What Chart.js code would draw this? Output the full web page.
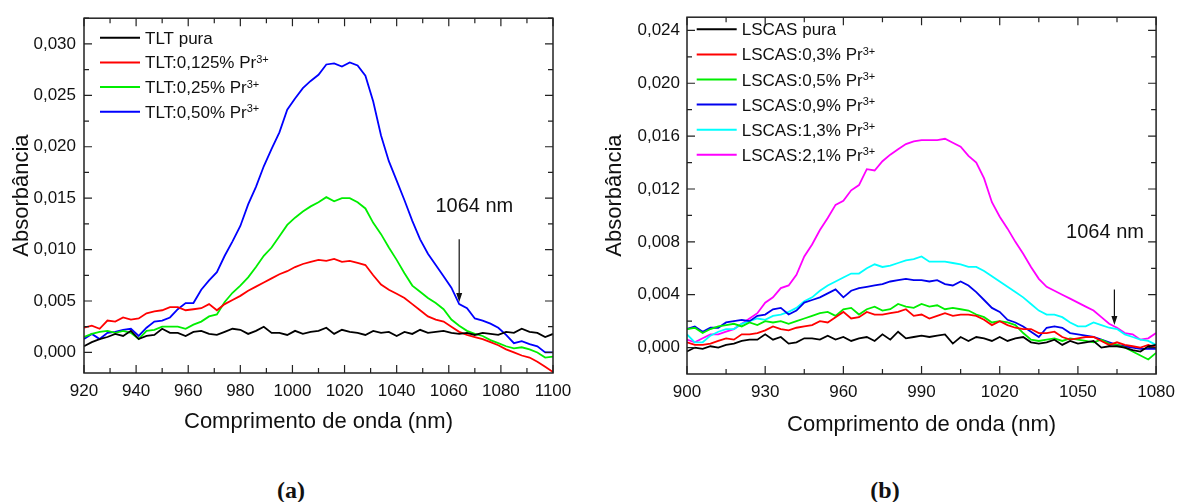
<!DOCTYPE html>
<html>
<head>
<meta charset="utf-8">
<script src="https://cdn.jsdelivr.net/npm/chart.js@4.4.0/dist/chart.umd.min.js"></script>
<style>
  body { margin: 0; background: #fff; width: 1183px; height: 502px; position: relative; overflow: hidden; }
  .box { position: absolute; top: 0; }
  .cap { position: absolute; font: bold 24px "Liberation Serif", "Times New Roman", serif; color: #111; transform: translate(-50%, -50%); }
</style>
</head>
<body>
<div class="box" style="left:0"><canvas id="chartA" width="580" height="450" style="width:580px;height:450px"></canvas></div>
<div class="box" style="left:600px"><canvas id="chartB" width="583" height="450" style="width:583px;height:450px"></canvas></div>
<div class="cap" style="left:291px; top:490px">(a)</div>
<div class="cap" style="left:885px; top:490px">(b)</div>

<script>
// ---------- (a) TLT ----------
let wl_a = [920,923,926,929,932,935,938,941,944,947,950,953,956,959,962,965,968,971,974,977,
  980,983,986,989,992,995,998,1001,1004,1007,1010,1013,1016,1019,1022,1025,1028,1031,1034,1037,
  1040,1043,1046,1049,1052,1055,1058,1061,1064,1067,1070,1073,1076,1079,1082,1085,1088,1091,1094,1097,1100];

let tlt_pura = [0.0006,0.0010,0.0013,0.0015,0.0018,0.0016,0.0021,0.0013,0.0016,0.0017,
  0.0023,0.0019,0.0019,0.0016,0.0020,0.0021,0.0018,0.0017,0.0020,0.0023,
  0.0022,0.0018,0.0021,0.0025,0.0019,0.0019,0.0017,0.0021,0.0018,0.0020,
  0.0021,0.0024,0.0018,0.0022,0.0020,0.0019,0.0017,0.0021,0.0019,0.0020,
  0.0016,0.0020,0.0018,0.0022,0.0019,0.0020,0.0021,0.0019,0.0018,0.0019,
  0.0017,0.0019,0.0018,0.0017,0.0020,0.0019,0.0023,0.0020,0.0019,0.0015,0.0018];

let tlt_0125 = [0.0024,0.0026,0.0023,0.0031,0.0030,0.0034,0.0032,0.0033,0.0038,0.0040,
  0.0041,0.0044,0.0044,0.0041,0.0042,0.0043,0.0047,0.0041,0.0047,0.0051,
  0.0055,0.0060,0.0064,0.0068,0.0072,0.0076,0.0079,0.0083,0.0086,0.0088,
  0.0090,0.0089,0.0091,0.0088,0.0089,0.0087,0.0085,0.0075,0.0066,0.0061,
  0.0057,0.0053,0.0047,0.0041,0.0035,0.0032,0.0030,0.0025,0.0020,0.0017,
  0.0015,0.0013,0.0010,0.0007,0.0003,0.0000,-0.0003,-0.0005,-0.0009,-0.0014,-0.0019];

let tlt_025 = [0.0015,0.0018,0.0020,0.0021,0.0019,0.0021,0.0019,0.0013,0.0021,0.0022,
  0.0025,0.0025,0.0025,0.0023,0.0027,0.0030,0.0035,0.0037,0.0049,0.0058,
  0.0065,0.0073,0.0083,0.0094,0.0102,0.0113,0.0124,0.0131,0.0137,0.0142,
  0.0146,0.0151,0.0147,0.0150,0.0150,0.0146,0.0140,0.0126,0.0115,0.0102,
  0.0090,0.0077,0.0065,0.0059,0.0053,0.0048,0.0042,0.0032,0.0026,0.0021,
  0.0018,0.0016,0.0012,0.0009,0.0006,0.0004,0.0005,0.0003,0.0000,-0.0005,-0.0004];

let tlt_050 = [0.0013,0.0018,0.0013,0.0019,0.0020,0.0022,0.0023,0.0016,0.0024,0.0030,
  0.0031,0.0034,0.0042,0.0048,0.0048,0.0061,0.0070,0.0078,0.0094,0.0108,
  0.0123,0.0144,0.0161,0.0181,0.0198,0.0214,0.0236,0.0247,0.0257,0.0264,
  0.0270,0.0280,0.0281,0.0278,0.0282,0.0279,0.0269,0.0244,0.0211,0.0186,
  0.0167,0.0148,0.0128,0.0110,0.0096,0.0085,0.0074,0.0063,0.0047,0.0043,
  0.0033,0.0031,0.0028,0.0024,0.0017,0.0009,0.0011,0.0008,0.0006,0.0000,0.0000];

let labels_a = ["TLT pura", "TLT:0,125% Pr^3+", "TLT:0,25% Pr^3+", "TLT:0,50% Pr^3+"];
let colors_a = ["#000000", "#ff0000", "#00ee00", "#0000ff"];
let xTicks_a = [920, 940, 960, 980, 1000, 1020, 1040, 1060, 1080, 1100];
let yTicks_a = [0, 0.005, 0.010, 0.015, 0.020, 0.025, 0.030];

// ---------- (b) LSCAS ----------
let wl_b = [900,903,906,909,912,915,918,921,924,927,930,933,936,939,942,945,948,951,954,957,
  960,963,966,969,972,975,978,981,984,987,990,993,996,999,1002,1005,1008,1011,1014,1017,
  1020,1023,1026,1029,1032,1035,1038,1041,1044,1047,1050,1053,1056,1059,1062,1065,1068,1071,1074,1077,1080];

let lscas_pura = [-0.0003,0.0000,-0.0001,0.0001,0.0000,0.0002,0.0003,0.0005,0.0006,0.0006,
  0.0010,0.0006,0.0008,0.0003,0.0004,0.0007,0.0007,0.0006,0.0009,0.0006,
  0.0008,0.0005,0.0007,0.0008,0.0005,0.0010,0.0006,0.0012,0.0007,0.0008,
  0.0009,0.0008,0.0009,0.0010,0.0003,0.0008,0.0005,0.0008,0.0007,0.0005,
  0.0008,0.0005,0.0007,0.0008,0.0004,0.0003,0.0004,0.0006,0.0002,0.0005,
  0.0003,0.0004,0.0005,0.0000,0.0001,0.0001,0.0000,-0.0002,-0.0003,0.0001,0.0002];

let lscas_03 = [0.0004,0.0002,0.0002,0.0003,0.0005,0.0007,0.0006,0.0010,0.0010,0.0011,
  0.0013,0.0016,0.0014,0.0013,0.0015,0.0016,0.0017,0.0020,0.0019,0.0023,
  0.0027,0.0022,0.0023,0.0027,0.0025,0.0025,0.0026,0.0027,0.0029,0.0024,
  0.0025,0.0022,0.0024,0.0026,0.0024,0.0025,0.0025,0.0024,0.0021,0.0017,
  0.0020,0.0017,0.0015,0.0014,0.0014,0.0011,0.0011,0.0012,0.0008,0.0006,
  0.0007,0.0008,0.0008,0.0005,0.0002,0.0004,0.0002,0.0001,0.0000,0.0002,0.0000];

let lscas_05 = [0.0014,0.0015,0.0011,0.0014,0.0016,0.0017,0.0018,0.0016,0.0019,0.0017,
  0.0020,0.0019,0.0020,0.0018,0.0020,0.0022,0.0024,0.0026,0.0027,0.0024,
  0.0029,0.0030,0.0025,0.0029,0.0031,0.0028,0.0029,0.0033,0.0031,0.0030,
  0.0033,0.0031,0.0032,0.0029,0.0030,0.0029,0.0028,0.0025,0.0023,0.0019,
  0.0020,0.0019,0.0017,0.0011,0.0006,0.0005,0.0006,0.0007,0.0005,0.0007,
  0.0006,0.0005,0.0004,0.0006,0.0003,0.0002,0.0000,-0.0003,-0.0006,-0.0009,-0.0004];

let lscas_09 = [0.0014,0.0016,0.0012,0.0015,0.0015,0.0019,0.0020,0.0021,0.0020,0.0024,
  0.0025,0.0029,0.0030,0.0025,0.0028,0.0034,0.0036,0.0038,0.0041,0.0044,
  0.0038,0.0043,0.0045,0.0046,0.0047,0.0048,0.0050,0.0051,0.0052,0.0051,
  0.0051,0.0050,0.0051,0.0048,0.0047,0.0050,0.0047,0.0042,0.0036,0.0030,
  0.0027,0.0021,0.0019,0.0016,0.0012,0.0008,0.0015,0.0016,0.0015,0.0011,
  0.0010,0.0009,0.0008,0.0006,0.0004,0.0002,0.0001,0.0000,-0.0001,-0.0001,-0.0001];

let lscas_13 = [0.0010,0.0004,0.0004,0.0009,0.0012,0.0014,0.0014,0.0018,0.0020,0.0022,
  0.0021,0.0024,0.0025,0.0027,0.0030,0.0035,0.0038,0.0043,0.0047,0.0050,
  0.0053,0.0056,0.0056,0.0060,0.0063,0.0061,0.0062,0.0064,0.0066,0.0067,
  0.0069,0.0065,0.0065,0.0065,0.0064,0.0063,0.0061,0.0061,0.0058,0.0054,
  0.0050,0.0046,0.0042,0.0038,0.0033,0.0028,0.0025,0.0025,0.0023,0.0019,
  0.0016,0.0016,0.0019,0.0017,0.0015,0.0014,0.0010,0.0008,0.0006,0.0005,0.0002];

let lscas_21 = [0.0006,0.0004,0.0007,0.0010,0.0010,0.0012,0.0014,0.0018,0.0022,0.0026,
  0.0034,0.0038,0.0045,0.0047,0.0055,0.0069,0.0078,0.0089,0.0098,0.0108,
  0.0111,0.0119,0.0123,0.0135,0.0134,0.0141,0.0146,0.0150,0.0154,0.0156,
  0.0157,0.0157,0.0157,0.0158,0.0155,0.0152,0.0145,0.0140,0.0128,0.0110,
  0.0099,0.0090,0.0080,0.0071,0.0061,0.0052,0.0046,0.0043,0.0040,0.0037,
  0.0034,0.0031,0.0028,0.0023,0.0018,0.0015,0.0011,0.0010,0.0006,0.0007,0.0011];

let labels_b = ["LSCAS pura", "LSCAS:0,3% Pr^3+", "LSCAS:0,5% Pr^3+", "LSCAS:0,9% Pr^3+", "LSCAS:1,3% Pr^3+", "LSCAS:2,1% Pr^3+"];
let colors_b = ["#000000", "#ff0000", "#00ee00", "#0000ee", "#00ffff", "#ff00ff"];
let xTicks_b = [900, 930, 960, 990, 1020, 1050, 1080];
let yTicks_b = [0, 0.004, 0.008, 0.012, 0.016, 0.020, 0.024];

// ---------------------------------

const FONT = 'Arial, "Liberation Sans", sans-serif';
Chart.defaults.font.family = FONT;
Chart.defaults.color = "#111";

function comma(v, d) {
  return v.toFixed(d).replace(".", ",");
}

// box round the plot, with inward major and minor ticks on all four sides
const framePlugin = {
  id: "frame",
  afterDatasetsDraw(chart) {
    const { ctx, chartArea: a, scales } = chart;
    ctx.save();
    ctx.strokeStyle = "#222";
    ctx.lineWidth = 1.5;
    ctx.strokeRect(a.left, a.top, a.right - a.left, a.bottom - a.top);
    ctx.lineWidth = 1.2;
    ctx.beginPath();
    let xv = scales.x.ticks.map(t => t.value);
    xv.forEach((v, i) => {
      let px = scales.x.getPixelForValue(v);
      ctx.moveTo(px, a.bottom); ctx.lineTo(px, a.bottom - 8);
      ctx.moveTo(px, a.top); ctx.lineTo(px, a.top + 8);
      if (i < xv.length - 1) {
        let mx = scales.x.getPixelForValue((v + xv[i + 1]) / 2);
        ctx.moveTo(mx, a.bottom); ctx.lineTo(mx, a.bottom - 5);
        ctx.moveTo(mx, a.top); ctx.lineTo(mx, a.top + 5);
      }
    });
    let yv = scales.y.ticks.map(t => t.value);
    yv.forEach((v, i) => {
      let py = scales.y.getPixelForValue(v);
      ctx.moveTo(a.left, py); ctx.lineTo(a.left + 8, py);
      ctx.moveTo(a.right, py); ctx.lineTo(a.right - 8, py);
      let nxt = i < yv.length - 1 ? (v + yv[i + 1]) / 2 : v + (v - yv[i - 1]) / 2;
      let my = scales.y.getPixelForValue(nxt);
      if (my >= a.top) {
        ctx.moveTo(a.left, my); ctx.lineTo(a.left + 5, my);
        ctx.moveTo(a.right, my); ctx.lineTo(a.right - 5, my);
      }
    });
    ctx.stroke();
    ctx.restore();
  }
};

// legend with superscripts (text after ^ is raised)
const supLegend = {
  id: "supLegend",
  afterDraw(chart, args, opts) {
    const ctx = chart.ctx;
    ctx.save();
    chart.data.datasets.forEach((ds, i) => {
      let y = opts.y + i * opts.row;
      ctx.strokeStyle = ds.borderColor;
      ctx.lineWidth = 2;
      ctx.beginPath();
      ctx.moveTo(opts.x, y);
      ctx.lineTo(opts.x + opts.len, y);
      ctx.stroke();
      let parts = ds.label.split("^");
      ctx.fillStyle = "#111";
      ctx.textBaseline = "alphabetic";
      ctx.textAlign = "left";
      ctx.font = "17px " + FONT;
      let tx = opts.x + opts.len + 5;
      ctx.fillText(parts[0], tx, y + 6);
      if (parts[1]) {
        let w = ctx.measureText(parts[0]).width;
        ctx.font = "11px " + FONT;
        ctx.fillText(parts[1], tx + w, y + 0.5);
      }
    });
    ctx.restore();
  }
};

// "1064 nm" label with a downward arrow
const markPlugin = {
  id: "mark",
  afterDraw(chart, args, opts) {
    const { ctx, scales: { x, y } } = chart;
    ctx.save();
    ctx.fillStyle = "#111";
    ctx.font = "20px " + FONT;
    ctx.textAlign = "center";
    ctx.textBaseline = "middle";
    ctx.fillText(opts.text, x.getPixelForValue(opts.tx), y.getPixelForValue(opts.ty));
    let ax = x.getPixelForValue(opts.ax);
    let y0 = y.getPixelForValue(opts.yFrom);
    let y1 = y.getPixelForValue(opts.yTo);
    ctx.strokeStyle = "#111";
    ctx.lineWidth = 1.2;
    ctx.beginPath();
    ctx.moveTo(ax, y0);
    ctx.lineTo(ax, y1 - 6);
    ctx.stroke();
    ctx.beginPath();
    ctx.moveTo(ax - 3, y1 - 9);
    ctx.lineTo(ax + 3, y1 - 9);
    ctx.lineTo(ax, y1);
    ctx.closePath();
    ctx.fill();
    ctx.restore();
  }
};

function makeDatasets(wl, series, labels, colors) {
  return series.map((arr, i) => ({
    label: labels[i],
    data: wl.map((w, j) => ({ x: w, y: arr[j] })),
    borderColor: colors[i],
    backgroundColor: colors[i],
    borderWidth: 1.8,
    pointRadius: 0,
    tension: 0,
    fill: false
  }));
}

function makeChart(id, cfg) {
  return new Chart(id, {
    type: "line",
    data: { datasets: cfg.datasets },
    options: {
      responsive: false,
      animation: false,
      layout: { padding: cfg.pad },
      plugins: {
        legend: { display: false },
        tooltip: { enabled: false },
        supLegend: cfg.legend,
        mark: cfg.mark
      },
      scales: {
        x: {
          type: "linear",
          min: cfg.xMin, max: cfg.xMax,
          afterBuildTicks: s => { s.ticks = cfg.xTicks.map(v => ({ value: v })); },
          afterFit: s => { s.height = cfg.xH; },
          grid: { display: false, drawTicks: false },
          border: { display: false },
          ticks: { padding: 8, font: { size: 17 }, maxRotation: 0, callback: v => String(v) },
          title: { display: true, text: "Comprimento de onda (nm)", font: { size: 22 }, padding: { top: 0, bottom: cfg.xTitlePad } }
        },
        y: {
          min: cfg.yMin, max: cfg.yMax,
          afterBuildTicks: s => { s.ticks = cfg.yTicks.map(v => ({ value: v })); },
          afterFit: s => { s.width = cfg.yW; },
          grid: { display: false, drawTicks: false },
          border: { display: false },
          ticks: { padding: cfg.yTickPad, font: { size: 17 }, callback: v => comma(v, 3) },
          title: { display: true, text: "Absorbância", font: { size: 22 }, padding: { top: cfg.yTitlePad, bottom: 0 } }
        }
      }
    },
    plugins: [framePlugin, supLegend, markPlugin]
  });
}

makeChart("chartA", {
  datasets: makeDatasets(wl_a, [tlt_pura, tlt_0125, tlt_025, tlt_050], labels_a, colors_a),
  pad: { top: 16, right: 27, left: 0, bottom: 0 },
  xMin: 920, xMax: 1100, xTicks: xTicks_a, xH: 77, xTitlePad: 15,
  yMin: -0.002, yMax: 0.0325, yTicks: yTicks_a, yW: 84, yTickPad: 8, yTitlePad: 9,
  legend: { x: 100, y: 37.7, row: 24.7, len: 40 },
  mark: { text: "1064 nm", tx: 1069.8, ty: 0.0142, ax: 1064, yFrom: 0.0110, yTo: 0.0049 }
});

makeChart("chartB", {
  datasets: makeDatasets(wl_b, [lscas_pura, lscas_03, lscas_05, lscas_09, lscas_13, lscas_21], labels_b, colors_b),
  pad: { top: 15, right: 21, left: 0, bottom: 0 },
  xMin: 900, xMax: 1080, xTicks: xTicks_b, xH: 76, xTitlePad: 12,
  yMin: -0.002, yMax: 0.025, yTicks: yTicks_b, yW: 87, yTickPad: 7, yTitlePad: 2,
  legend: { x: 96.7, y: 29.3, row: 25.1, len: 40 },
  mark: { text: "1064 nm", tx: 1060.4, ty: 0.0087, ax: 1064, yFrom: 0.0044, yTo: 0.0017 }
});
</script>
</body>
</html>
